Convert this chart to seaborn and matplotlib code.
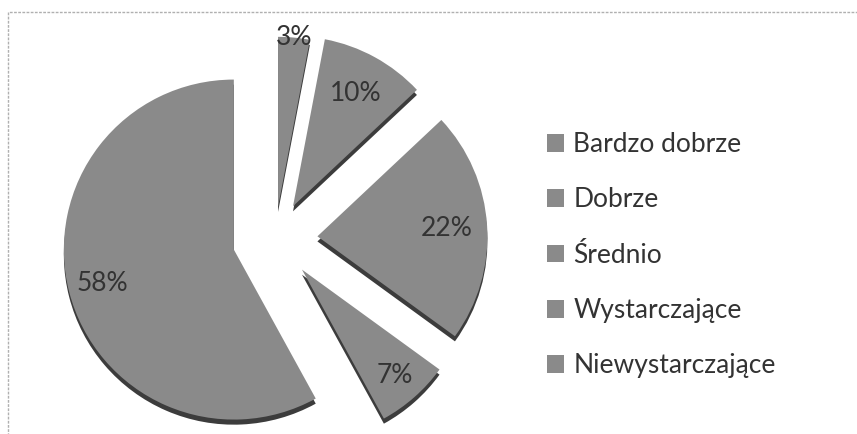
import matplotlib
matplotlib.use("Agg")
import matplotlib.pyplot as plt
import numpy as np
import seaborn as sns
from matplotlib.patches import Rectangle

# data
categories = ["Bardzo dobrze", "Dobrze", "Średnio", "Wystarczające", "Niewystarczające"]
shares = [3, 10, 22, 7, 58]
pct_labels = ["3%", "10%", "22%", "7%", "58%"]
explode = [0.19, 0.22, 0.25, 0.24, 0.25]
label_dist = [1.0, 0.76, 0.76, 0.83, 0.8]

sns.set_theme(style="white")
plt.rcParams["font.family"] = ["Lato", "DejaVu Sans"]

slice_gray = "#8a8a8a"
shadow_gray = "#3c3c3c"
text_gray = "#333333"

fig = plt.figure(figsize=(8.57, 4.34), dpi=100)
ax = fig.add_axes([0, 0, 550 / 857, 1])

# dark copy a bit lower gives the 3d edge
ax.pie(shares, explode=explode, startangle=90, counterclock=False,
       colors=[shadow_gray] * 5, center=(0, -0.03),
       wedgeprops=dict(linewidth=0))
wedges, _ = ax.pie(shares, explode=explode, startangle=90, counterclock=False,
                   colors=[slice_gray] * 5, wedgeprops=dict(linewidth=0))

for w, lab, d in zip(wedges, pct_labels, label_dist):
    ang = np.deg2rad((w.theta1 + w.theta2) / 2)
    cx, cy = w.center
    ax.text(cx + d * w.r * np.cos(ang), cy + d * w.r * np.sin(ang), lab,
            ha="center", va="center", fontsize=19, color=text_gray)

ax.set_xlim(-275 / 170, 275 / 170)
ax.set_ylim(-195 / 170, 239 / 170)
ax.set_aspect("auto")
ax.axis("off")

# chart frame (only top and left visible)
fig.add_artist(Rectangle((8 / 857, -0.05), 1.0, 1 - 12 / 434 + 0.05,
                         transform=fig.transFigure, fill=False,
                         edgecolor="#b0b0b0", lw=1, linestyle=(0, (2, 1))))

fig.legend(handles=wedges, labels=categories, loc="upper left",
           bbox_to_anchor=(547 / 857, 1 - 132 / 434), frameon=False,
           fontsize=19, labelcolor=text_gray, handlelength=0.65,
           handleheight=0.65, handletextpad=0.35, labelspacing=1.15,
           borderaxespad=0, borderpad=0)

fig.savefig("out.png", dpi=100)
